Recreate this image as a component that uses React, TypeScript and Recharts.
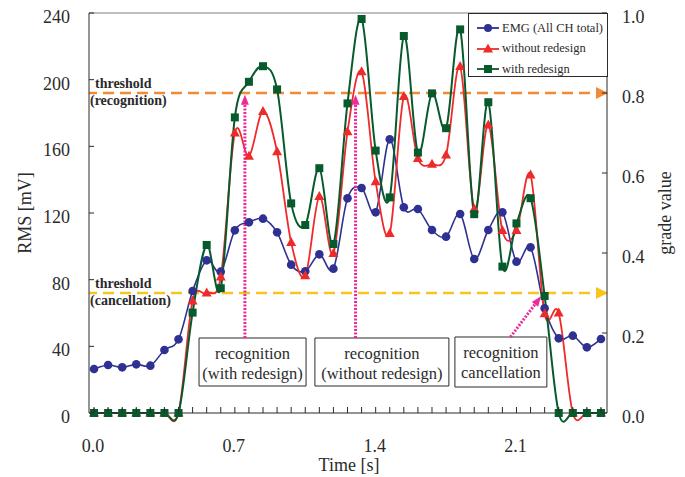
import { Line, LineChart, ReferenceArea, ReferenceLine, XAxis, YAxis } from 'recharts'

// sample times [s]
const TIME = [
  0, 0.07, 0.14, 0.21, 0.28, 0.35, 0.42, 0.49, 0.56, 0.63,
  0.7, 0.77, 0.84, 0.91, 0.98, 1.05, 1.12, 1.19, 1.26, 1.33,
  1.4, 1.47, 1.54, 1.61, 1.68, 1.75, 1.82, 1.89, 1.96, 2.03,
  2.1, 2.17, 2.24, 2.31, 2.38, 2.45, 2.52,
]
// RMS [mV]
const EMG = [
  26.4, 28.8, 27.4, 29.2, 28.4, 37.8, 44.2, 73.2, 91.6, 84.8,
  109.6, 114.4, 116.6, 108.4, 89, 85, 95.2, 86.6, 128.8, 135,
  120.4, 164.2, 123.4, 122.4, 109.8, 105.8, 119.4, 92.4, 109.8, 120.4,
  90.8, 99.4, 62.8, 44.8, 46.4, 39.4, 44.4,
]
// grade value
const WITHOUT_REDESIGN = [
  0, 0, 0, 0, 0, 0, 0, 0.28, 0.3, 0.34,
  0.7, 0.642, 0.754, 0.653, 0.426, 0.343, 0.541, 0.399, 0.703, 0.853,
  0.578, 0.449, 0.791, 0.636, 0.622, 0.645, 0.866, 0.51, 0.72, 0.456,
  0.456, 0.595, 0.248, 0.25, 0, 0, 0,
]
const WITH_REDESIGN = [
  0, 0, 0, 0, 0, 0, 0, 0.251, 0.42, 0.312,
  0.739, 0.828, 0.867, 0.809, 0.524, 0.47, 0.612, 0.4225, 0.774, 0.985,
  0.656, 0.539, 0.9425, 0.651, 0.799, 0.712, 0.959, 0.497, 0.777, 0.366,
  0.474, 0.537, 0.2925, 0, 0, 0, 0,
]

const SERIES_NAMES = ['EMG (All CH total)', 'without redesign', 'with redesign']
const RMS_TICKS = [0, 40, 80, 120, 160, 200, 240]
const GRADE_TICKS = [0, 0.2, 0.4, 0.6, 0.8, 1.0]
const TIME_LABELS = [0, 0.7, 1.4, 2.1]

const THRESHOLDS = [
  { grade: 0.8, text: ['threshold', '(recognition)'], color: '#F28A35' },
  { grade: 0.3, text: ['threshold', '(cancellation)'], color: '#F7C51E' },
]

const NOTES = [
  { x1: 0.522, x2: 1.054, y1: 16.2, y2: 45, text: ['recognition', '(with redesign)'] },
  { x1: 1.098, x2: 1.764, y1: 16.2, y2: 45, text: ['recognition', '(without redesign)'] },
  { x1: 1.794, x2: 2.251, y1: 15.6, y2: 45.6, text: ['recognition', 'cancellation'] },
]
const ARROWS = [
  [{ x: 0.75, y: 45 }, { x: 0.75, y: 191 }],
  [{ x: 1.3, y: 45 }, { x: 1.3, y: 191 }],
  [{ x: 2.07, y: 45.6 }, { x: 2.222, y: 70 }],
]

const data = TIME.map((t, i) => ({
  t,
  emg: EMG[i],
  without: WITHOUT_REDESIGN[i],
  with: WITH_REDESIGN[i],
}))

const W = 685
const H = 477
const M = { top: 13, right: 18, bottom: 20, left: 29 }
const PL = 89
const PR = 607
const PB = 413
const FONT = '"Liberation Serif", "Times New Roman", serif'
const BLUE = '#2E3192'
const RED = '#EE2B2B'
const GREEN = '#075A2C'
const PINK = '#EC2A9C'
const INK = '#2b2b2b'

// Catmull-Rom style smoothing, like the spreadsheet's "smoothed line"
const smoothCurve = (context: any) => {
  let pts: [number, number][] = []
  return {
    areaStart() {},
    areaEnd() {},
    lineStart() {
      pts = []
    },
    lineEnd() {
      if (!pts.length) return
      context.moveTo(pts[0][0], pts[0][1])
      for (let i = 0; i < pts.length - 1; i++) {
        const p0 = pts[Math.max(i - 1, 0)]
        const p1 = pts[i]
        const p2 = pts[i + 1]
        const p3 = pts[Math.min(i + 2, pts.length - 1)]
        context.bezierCurveTo(
          p1[0] + (p2[0] - p0[0]) / 6,
          p1[1] + (p2[1] - p0[1]) / 6,
          p2[0] - (p3[0] - p1[0]) / 6,
          p2[1] - (p3[1] - p1[1]) / 6,
          p2[0],
          p2[1],
        )
      }
    },
    point(x: number, y: number) {
      pts.push([x, y])
    },
  }
}

const CircleDot = ({ cx, cy }: any) => <circle cx={cx} cy={cy} r={4.3} fill={BLUE} />
const TriDot = ({ cx, cy }: any) => (
  <polygon points={`${cx},${cy - 5.5} ${cx + 5},${cy + 3.5} ${cx - 5},${cy + 3.5}`} fill={RED} />
)
const SquareDot = ({ cx, cy }: any) => (
  <rect x={cx - 4} y={cy - 4} width={8} height={8} fill={GREEN} />
)

const LeftTick = ({ y, payload }: any) => (
  <g>
    <line x1={PL} x2={PL + 5} y1={y} y2={y} stroke={INK} />
    <text x={PL - 19} y={y} dy={10} textAnchor="end" fontSize={18} fontFamily={FONT} fill={INK}>
      {payload.value}
    </text>
  </g>
)
const RightTick = ({ y, payload }: any) => (
  <g>
    <line x1={PR - 5} x2={PR} y1={y} y2={y} stroke={INK} />
    <text x={PR + 15} y={y} dy={10} textAnchor="start" fontSize={18} fontFamily={FONT} fill={INK}>
      {payload.value.toFixed(1)}
    </text>
  </g>
)
const TimeTick = ({ x, payload }: any) => {
  const labelled = TIME_LABELS.includes(payload.value)
  return (
    <g>
      <line x1={x} x2={x} y1={PB} y2={PB - 6} stroke={INK} />
      {labelled && (
        <text x={x - 1} y={PB + 39} textAnchor="middle" fontSize={18} fontFamily={FONT} fill={INK}>
          {payload.value.toFixed(1)}
        </text>
      )}
    </g>
  )
}

const thresholdLabel = (text: string[], color: string) => (props: any) => {
  const { x, y, width } = props.viewBox
  const tip = x + width + 1
  return (
    <g>
      <polygon points={`${tip},${y} ${tip - 12},${y - 6} ${tip - 12},${y + 6}`} fill={color} />
      <text x={x + 6} y={y - 5.5} fontSize={14} fontWeight="bold" fontFamily={FONT} fill={INK}>
        {text[0]}
      </text>
      <text x={x + 1} y={y + 11.5} fontSize={14} fontWeight="bold" fontFamily={FONT} fill={INK}>
        {text[1]}
      </text>
    </g>
  )
}

const noteLabel = (text: string[]) => (props: any) => {
  const { x, y, width } = props.viewBox
  const cx = x + width / 2
  return (
    <g fontSize={16.5} fontFamily={FONT} fill={INK} textAnchor="middle">
      <text x={cx} y={y + 21}>{text[0]}</text>
      <text x={cx} y={y + 41}>{text[1]}</text>
    </g>
  )
}

const ArrowShape = (props: any) => {
  const { x1, y1, x2, y2 } = props
  const a = Math.atan2(y2 - y1, x2 - x1)
  const len = 10
  const half = 4
  const bx = x2 - len * Math.cos(a)
  const by = y2 - len * Math.sin(a)
  const px = -Math.sin(a) * half
  const py = Math.cos(a) * half
  return (
    <g>
      <line x1={x1} y1={y1} x2={bx} y2={by} stroke={PINK} strokeWidth={3} strokeDasharray="2 1.5" />
      <polygon points={`${x2},${y2} ${bx + px},${by + py} ${bx - px},${by - py}`} fill={PINK} />
    </g>
  )
}

const title = (text: string, cx: number, cy: number, rotate: boolean) => () => (
  <text
    x={cx}
    y={cy}
    textAnchor="middle"
    dominantBaseline="central"
    fontSize={18}
    fontFamily={FONT}
    fill={INK}
    transform={rotate ? `rotate(-90, ${cx}, ${cy})` : undefined}
  >
    {text}
  </text>
)

const LEGEND_MARKS = [
  { color: BLUE, mark: <circle cx={11} cy={6} r={4} fill={BLUE} /> },
  { color: RED, mark: <polygon points="11,0.5 16,9.5 6,9.5" fill={RED} /> },
  { color: GREEN, mark: <rect x={7} y={2} width={8} height={8} fill={GREEN} /> },
]

export default function App() {
  return (
    <div style={{ position: 'absolute', left: 0, top: 0, width: W, height: H, background: '#fff' }}>
      <LineChart width={W} height={H} data={data} margin={M}>
        <XAxis
          dataKey="t"
          type="number"
          domain={[-0.025, 2.55]}
          ticks={TIME}
          interval={0}
          tick={<TimeTick />}
          tickLine={false}
          axisLine={{ stroke: INK }}
          height={44}
          label={title('Time [s]', 349, 465, false)}
        />
        <YAxis
          yAxisId="rms"
          domain={[0, 240]}
          ticks={RMS_TICKS}
          interval={0}
          tick={<LeftTick />}
          tickLine={false}
          axisLine={{ stroke: INK }}
          width={60}
          label={title('RMS [mV]', 25, 213, true)}
        />
        <YAxis
          yAxisId="grade"
          orientation="right"
          domain={[0, 1]}
          ticks={GRADE_TICKS}
          interval={0}
          tick={<RightTick />}
          tickLine={false}
          axisLine={{ stroke: INK }}
          width={60}
          label={title('grade value', 665, 213, true)}
        />
        <ReferenceLine yAxisId="rms" y={240} stroke="#a8a8a8" strokeWidth={1.5} />
        {THRESHOLDS.map((th) => (
          <ReferenceLine
            key={th.grade}
            yAxisId="grade"
            y={th.grade}
            stroke={th.color}
            strokeWidth={2.6}
            strokeDasharray="11 6"
            label={thresholdLabel(th.text, th.color)}
          />
        ))}
        <Line
          yAxisId="rms"
          dataKey="emg"
          name={SERIES_NAMES[0]}
          type={smoothCurve as any}
          stroke={BLUE}
          strokeWidth={1.6}
          dot={<CircleDot />}
          isAnimationActive={false}
        />
        <Line
          yAxisId="grade"
          dataKey="without"
          name={SERIES_NAMES[1]}
          type={smoothCurve as any}
          stroke={RED}
          strokeWidth={1.8}
          dot={<TriDot />}
          isAnimationActive={false}
        />
        <Line
          yAxisId="grade"
          dataKey="with"
          name={SERIES_NAMES[2]}
          type={smoothCurve as any}
          stroke={GREEN}
          strokeWidth={2}
          dot={<SquareDot />}
          isAnimationActive={false}
        />
        {ARROWS.map((seg, i) => (
          <ReferenceLine key={`a${i}`} yAxisId="rms" segment={seg} shape={ArrowShape} />
        ))}
        {NOTES.map((n, i) => (
          <ReferenceArea
            key={`n${i}`}
            yAxisId="rms"
            x1={n.x1}
            x2={n.x2}
            y1={n.y1}
            y2={n.y2}
            fill="#fff"
            fillOpacity={1}
            stroke={INK}
            strokeWidth={1}
            label={noteLabel(n.text)}
          />
        ))}
      </LineChart>
      <div
        style={{
          position: 'absolute',
          left: 468,
          top: 13,
          width: 138,
          height: 62,
          border: `1px solid ${INK}`,
          background: '#fff',
          fontFamily: FONT,
          fontSize: 12.5,
          color: INK,
        }}
      >
        {SERIES_NAMES.map((name, i) => (
          <div
            key={name}
            style={{ position: 'absolute', left: 8, top: 4 + i * 20.5, height: 20, display: 'flex', alignItems: 'center' }}
          >
            <svg width={23} height={12} style={{ marginRight: 2 }}>
              <line x1={0} x2={22} y1={6} y2={6} stroke={LEGEND_MARKS[i].color} strokeWidth={1.8} />
              {LEGEND_MARKS[i].mark}
            </svg>
            <span>{name}</span>
          </div>
        ))}
      </div>
    </div>
  )
}
